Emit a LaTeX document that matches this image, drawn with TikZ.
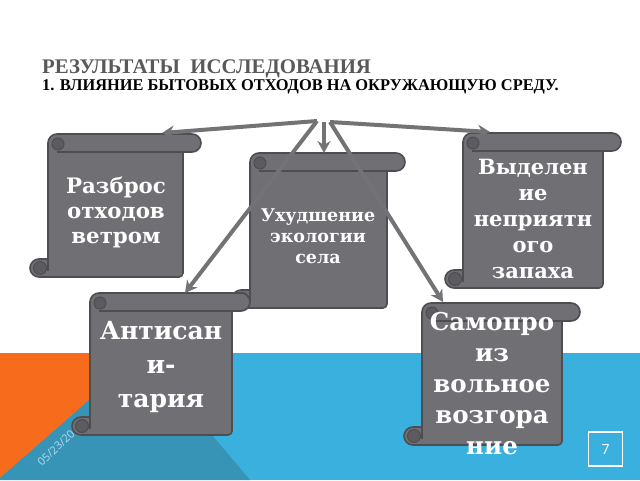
\documentclass[tikz,border=0pt]{standalone}
\usepackage{fontspec}
\setmainfont{Liberation Serif}
\newfontfamily\scrollfont{DejaVu Serif}
\newfontfamily\sansf{Open Sans}
\usetikzlibrary{arrows.meta}
\definecolor{bandblue}{RGB}{58,176,222}
\definecolor{bandorange}{RGB}{247,107,28}
\definecolor{bandteal}{RGB}{56,148,182}
\definecolor{datecol}{RGB}{175,222,240}
\definecolor{scrollgray}{RGB}{112,112,116}
\definecolor{scrolledge}{RGB}{78,78,82}
\definecolor{scrolldark}{RGB}{92,92,96}
\definecolor{arrowgray}{RGB}{115,115,118}
\definecolor{titlegray}{RGB}{89,89,89}
\tikzset{
  scrollbody/.style={fill=scrollgray, draw=scrolledge, line width=1.6pt, line join=round},
  scrollline/.style={draw=scrolledge, line width=1.3pt},
  scrollcurl/.style={fill=scrolldark, draw=scrolledge, line width=1pt},
  arr/.style={draw=arrowgray, line width=4pt, -{Stealth[length=12pt,width=13pt,inset=4pt]}},
  stext/.style={text=white, align=center, inner sep=0pt},
}
\newcommand{\drawscroll}[4]{%
  \filldraw[scrollbody] (#1,#2+9) arc[start angle=180,end angle=270,radius=9]
    -- (#3+9,#2) arc[start angle=-90,end angle=90,radius=9]
    -- (#3,#2+18) -- (#3,#4-4) arc[start angle=0,end angle=90,radius=4]
    -- (#1-9,#4) arc[start angle=90,end angle=270,radius=9]
    -- (#1,#4-18) -- cycle;
  \draw[scrollline] (#1+9,#2+18) -- (#3,#2+18);
  \filldraw[scrollcurl] (#1+10,#2+10) circle[radius=6];
  \filldraw[scrollcurl] (#1-8,#4-9) circle[radius=6.5];
  \draw[scrollline] (#1,#4-18) -- (#1,#4-6);
}
\begin{document}
\begin{tikzpicture}[x=1pt,y=-1pt]
\useasboundingbox (0,0) rectangle (640,480);
\fill[white] (0,0) rectangle (640,480);
% bottom band
\fill[bandblue] (0,353) rectangle (640,480);
\fill[bandorange] (0,353) -- (143,353) -- (0,478) -- cycle;
\fill[bandteal] (0,480) -- (0,478) -- (143,353) -- (250,480) -- cycle;
\node[rotate=43, text=datecol, inner sep=0pt, font=\sansf\fontsize{11}{13}\selectfont] (date) at (56,448) {05/23/20};
\node[draw=white, line width=1.5pt, minimum width=34pt, minimum height=34pt, text=white, font=\sansf\fontsize{14}{16}\selectfont] (page) at (605.5,449) {7};
% title
\node[anchor=base west, inner sep=0pt, text=titlegray, font=\bfseries\fontsize{20.8}{23}\selectfont] (title1) at (42,73) {РЕЗУЛЬТАТЫ\ \ ИССЛЕДОВАНИЯ};
\node[anchor=base west, inner sep=0pt, text=black, font=\bfseries\fontsize{16.4}{19}\selectfont] (title2) at (42,90) {1. ВЛИЯНИЕ БЫТОВЫХ ОТХОДОВ НА ОКРУЖАЮЩУЮ СРЕДУ.};
% scrolls
\drawscroll{250}{153}{387}{308}
\drawscroll{48}{134}{183}{277}
\drawscroll{463}{133}{603}{288}
\drawscroll{90}{293}{232}{435}
\drawscroll{422}{303}{562}{445}
% arrows
\coordinate (apL) at (317,121);
\coordinate (apR) at (330,122);
\coordinate (apD) at (324,122);
\coordinate (tipA) at (162,133);
\coordinate (tipB) at (490,132);
\coordinate (tipC) at (324,153);
\coordinate (tipD) at (185,293);
\coordinate (tipE) at (443,302);
\draw[arr] (apL) -- (tipA);
\draw[arr] (apR) -- (tipB);
\draw[arr] (apD) -- (tipC);
\draw[arr] (apL) -- (tipD);
\draw[arr] (apR) -- (tipE);
% texts
\node[stext, font=\scrollfont\bfseries\fontsize{21.3}{25}\selectfont] (s1) at (116,212) {Разброс\\отходов\\ветром};
\node[stext, font=\scrollfont\bfseries\fontsize{17.5}{21}\selectfont] (s2) at (318,236) {Ухудшение\\экологии\\села};
\node[stext, font=\scrollfont\bfseries\fontsize{21}{26}\selectfont] (s3) at (533,219) {Выделен\\ие\\неприятн\\ого\\запаха};
\node[stext, font=\scrollfont\bfseries\fontsize{25}{34}\selectfont] (s4) at (161,367) {Антисан\\и-\\тария};
\node[stext, font=\scrollfont\bfseries\fontsize{24.5}{31}\selectfont] (s5) at (492,384) {Самопро\\из\\вольное\\возгора\\ние};
\end{tikzpicture}
\end{document}
